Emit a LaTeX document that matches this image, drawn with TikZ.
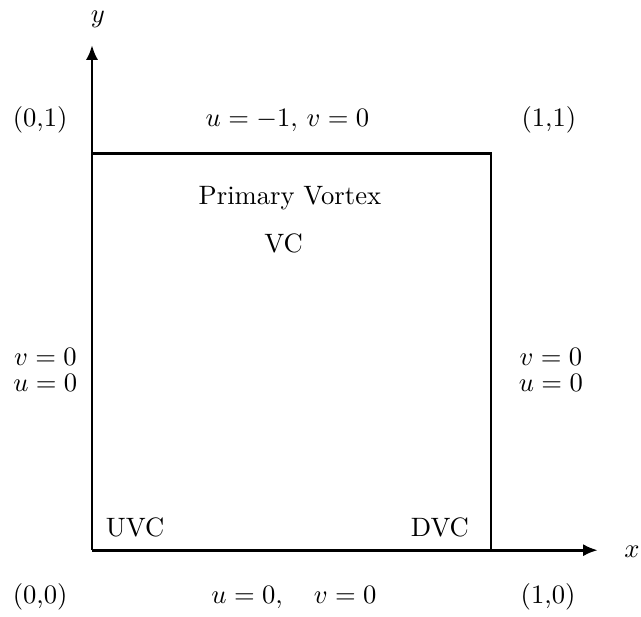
\documentclass[tikz,border=0pt]{standalone}
\usepackage{amsmath}
\usepackage{tikz}
\usetikzlibrary{
  arrows.meta,
  positioning,
  calc
}
\tikzset{
  wall/.style={line width=1.1pt},
  axis/.style={-{Latex[length=5.6pt, width=4.6pt]}, line width=1.1pt},
  lbl/.style={inner sep=0pt, font=\normalsize, text centered},
  bclbl/.style={inner sep=0pt, align=center, font=\normalsize}
}
\begin{document}
\begin{tikzpicture}[x=150pt, y=149.3pt]

\useasboundingbox (-0.2306,-0.166) rectangle (1.3759,1.3854);

% Corners of the cavity
\coordinate (O) at (0,0);
\coordinate (A) at (1,0);
\coordinate (B) at (1,1);
\coordinate (C) at (0,1);
\coordinate (xtip) at (1.268,0);
\coordinate (ytip) at (0,1.272);

% Axes
\draw[axis] (O) -- (xtip);
\draw[axis] (O) -- (ytip);
\node[lbl] (xlab) at (1.353,-0.005) {$x$};
\node[lbl] (ylab) at (0.015,1.337) {$y$};

% Cavity walls
\draw[wall] (A) -- (B) -- (C) -- (O);

% Corner labels
\node[lbl] (c01) at (-0.130,1.083) {(0,1)};
\node[lbl] (c11) at (1.145,1.083) {(1,1)};
\node[lbl] (c00) at (-0.130,-0.118) {(0,0)};
\node[lbl] (c10) at (1.143,-0.118) {(1,0)};

% Boundary conditions
\node[lbl] (top) at (0.490,1.083) {$u=-1,\,v=0$};
\node[lbl] (bottom) at (0.506,-0.118) {$u=0,\quad v=0$};
\node[bclbl] (left) at (-0.117,0.453) {$v=0$\\[-2.2pt]$u=0$};
\node[bclbl] (right) at (1.150,0.453) {$v=0$\\[-2.2pt]$u=0$};

% Vortices
\node[lbl] (pv) at (0.496,0.887) {Primary Vortex};
\node[lbl] (vc) at (0.480,0.773) {VC};
\node[lbl] (uvc) at (0.108,0.058) {UVC};
\node[lbl] (dvc) at (0.872,0.058) {DVC};

\end{tikzpicture}
\end{document}
